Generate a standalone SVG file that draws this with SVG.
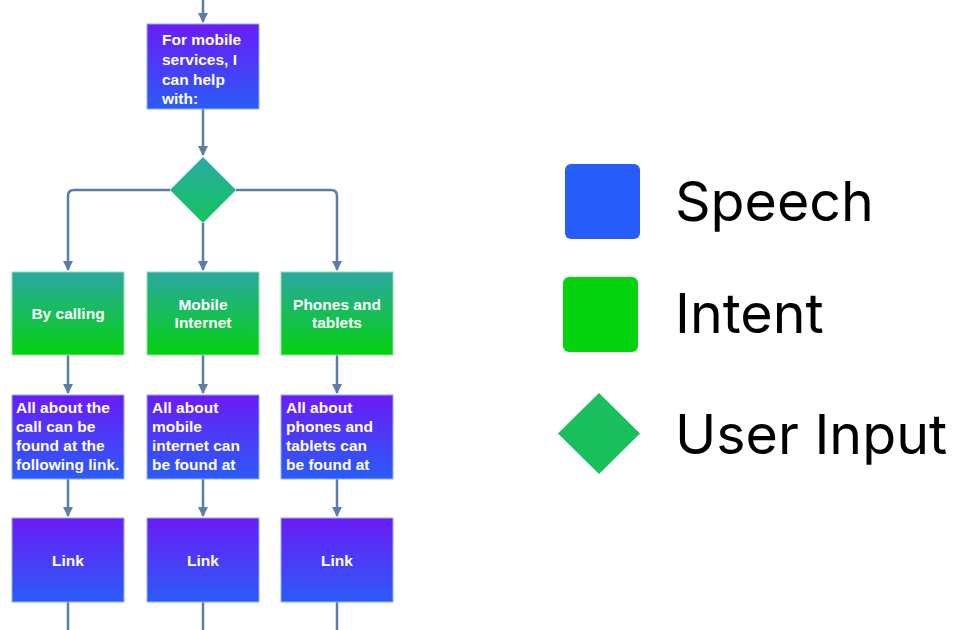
<svg xmlns="http://www.w3.org/2000/svg" width="955" height="630" viewBox="0 0 955 630">
  <defs>
    <linearGradient id="gSpeech" x1="0" y1="0" x2="0" y2="1">
      <stop offset="0" stop-color="#6a1cf6"/>
      <stop offset="1" stop-color="#2a5cf8"/>
    </linearGradient>
    <linearGradient id="gIntent" x1="0" y1="0" x2="0" y2="1">
      <stop offset="0" stop-color="#2aa8a2"/>
      <stop offset="1" stop-color="#04d20e"/>
    </linearGradient>
    <linearGradient id="gInput" x1="0" y1="0" x2="0" y2="1">
      <stop offset="0" stop-color="#2aaca8"/>
      <stop offset="1" stop-color="#14c45a"/>
    </linearGradient>
    <marker id="arrow" viewBox="0 0 10 10" refX="9" refY="5" markerWidth="4" markerHeight="4" orient="auto" markerUnits="strokeWidth">
      <path d="M0,0 L10,5 L0,10 z" fill="#5b7ea6"/>
    </marker>
  </defs>
  <style>
    .speech { fill: url(#gSpeech); stroke: #8fb0f5; stroke-width: 1; }
    .intent { fill: url(#gIntent); stroke: #8fe39a; stroke-width: 1; }
    .input { fill: url(#gInput); }
    .lbl { font-family: "Liberation Sans", Arial, sans-serif; font-weight: bold; font-size: 15.5px; fill: #ffffff; }
    .mid { text-anchor: middle; }
    .edge { fill: none; stroke: #5b7ea6; stroke-width: 2.5; }
    .legend { font-family: Inter, "Noto Sans", sans-serif; font-size: 55.5px; fill: #000000; }
  </style>
  <rect width="955" height="630" fill="#ffffff"/>

  <g id="connectors">
    <path class="edge" d="M203,0 V22" marker-end="url(#arrow)"/>
    <path class="edge" d="M203,109 V155" marker-end="url(#arrow)"/>
    <path class="edge" d="M203,223 V270" marker-end="url(#arrow)"/>
    <path class="edge" d="M170,190 H74 Q68,190 68,196 V270" marker-end="url(#arrow)"/>
    <path class="edge" d="M236,190 H331 Q337,190 337,196 V270" marker-end="url(#arrow)"/>
    <path class="edge" d="M68,355 V393" marker-end="url(#arrow)"/>
    <path class="edge" d="M203,355 V393" marker-end="url(#arrow)"/>
    <path class="edge" d="M337,355 V393" marker-end="url(#arrow)"/>
    <path class="edge" d="M68,479 V516" marker-end="url(#arrow)"/>
    <path class="edge" d="M203,479 V516" marker-end="url(#arrow)"/>
    <path class="edge" d="M337,479 V516" marker-end="url(#arrow)"/>
    <path class="edge" d="M68,602 V630"/>
    <path class="edge" d="M203,602 V630"/>
    <path class="edge" d="M337,602 V630"/>
  </g>

  <g id="start">
    <rect class="speech" x="147" y="24" width="112" height="85"/>
    <text class="lbl" x="162" y="45">For mobile</text>
    <text class="lbl" x="162" y="65">services, I</text>
    <text class="lbl" x="162" y="85">can help</text>
    <text class="lbl" x="162" y="104">with:</text>
  </g>

  <g id="choice">
    <polygon class="input" points="203,157 236,190 203,223 170,190"/>
  </g>

  <g id="intent-calling">
    <rect class="intent" x="12" y="272" width="112" height="83"/>
    <text class="lbl mid" x="68" y="319">By calling</text>
  </g>
  <g id="intent-internet">
    <rect class="intent" x="147" y="272" width="112" height="83"/>
    <text class="lbl mid" x="203" y="310">Mobile</text>
    <text class="lbl mid" x="203" y="328">Internet</text>
  </g>
  <g id="intent-devices">
    <rect class="intent" x="281" y="272" width="112" height="83"/>
    <text class="lbl mid" x="337" y="310">Phones and</text>
    <text class="lbl mid" x="337" y="328">tablets</text>
  </g>

  <g id="info-calling">
    <rect class="speech" x="12" y="395" width="112" height="84"/>
    <text class="lbl" x="16" y="413">All about the</text>
    <text class="lbl" x="16" y="432">call can be</text>
    <text class="lbl" x="16" y="451">found at the</text>
    <text class="lbl" x="16" y="470">following link.</text>
  </g>
  <g id="info-internet">
    <rect class="speech" x="147" y="395" width="112" height="84"/>
    <text class="lbl" x="152" y="413">All about</text>
    <text class="lbl" x="152" y="432">mobile</text>
    <text class="lbl" x="152" y="451">internet can</text>
    <text class="lbl" x="152" y="470">be found at</text>
  </g>
  <g id="info-devices">
    <rect class="speech" x="281" y="395" width="112" height="84"/>
    <text class="lbl" x="286" y="413">All about</text>
    <text class="lbl" x="286" y="432">phones and</text>
    <text class="lbl" x="286" y="451">tablets can</text>
    <text class="lbl" x="286" y="470">be found at</text>
  </g>

  <g id="link-calling">
    <rect class="speech" x="12" y="518" width="112" height="84"/>
    <text class="lbl mid" x="68" y="566">Link</text>
  </g>
  <g id="link-internet">
    <rect class="speech" x="147" y="518" width="112" height="84"/>
    <text class="lbl mid" x="203" y="566">Link</text>
  </g>
  <g id="link-devices">
    <rect class="speech" x="281" y="518" width="112" height="84"/>
    <text class="lbl mid" x="337" y="566">Link</text>
  </g>

  <g id="legend">
    <rect x="565" y="164" width="75" height="75" rx="6" fill="#265cf9"/>
    <text class="legend" x="675" y="221">Speech</text>
    <rect x="563" y="277" width="75" height="75" rx="6" fill="#03d40f"/>
    <text class="legend" x="675" y="333">Intent</text>
    <polygon points="599,393 640,433.5 599,474 558,433.5" fill="#19bf5d"/>
    <text class="legend" x="675" y="454">User Input</text>
  </g>
</svg>
